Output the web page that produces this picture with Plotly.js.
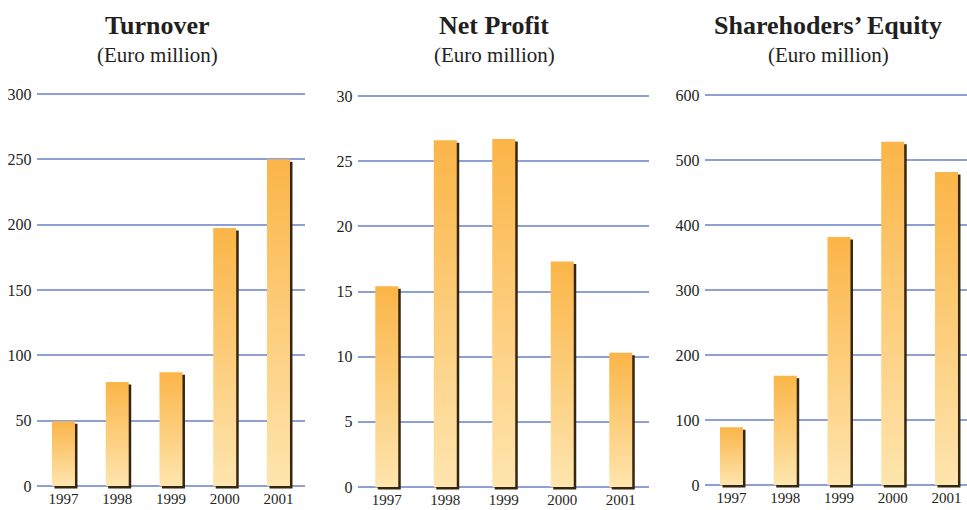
<!DOCTYPE html>
<html>
<head>
<meta charset="UTF-8">
<script src="https://cdn.plot.ly/plotly-3.0.1.min.js"></script>
<style>
  body { margin: 0; padding: 0; background: #fff; }
  #chart { width: 967px; height: 510px; }
</style>
</head>
<body>
<div id="chart"></div>
<script>
// data
const years = ['1997', '1998', '1999', '2000', '2001'];
const turnover = [49.5, 79.5, 87, 197.5, 250];
const netProfit = [15.4, 26.6, 26.7, 17.3, 10.3];
const equity = [89, 168, 381.5, 528, 481.5];

const titles = ['Turnover', 'Net Profit', 'Sharehoders\u2019 Equity'];
const subtitle = '(Euro million)';

const W = 967, H = 510;
const serif = 'Liberation Serif, Times New Roman, serif';

// panel geometry in pixels
const panels = [
  { vals: turnover,  ymax: 300, dtick: 50,  left: 36.6,  step: 53.75, right: 305, top: 94, zero: 486, title: 157 },
  { vals: netProfit, ymax: 30,  dtick: 5,   left: 357.5, step: 58.5,  right: 649, top: 96, zero: 487, title: 494 },
  { vals: equity,    ymax: 600, dtick: 100, left: 704.6, step: 53.75, right: 967, top: 95, zero: 485, title: 828 }
];

const barPx = 23;
const shadowPx = 2.5;

const traces = [];
const layout = {
  width: W, height: H,
  margin: { l: 0, r: 0, t: 0, b: 0 },
  paper_bgcolor: '#fff',
  plot_bgcolor: 'rgba(0,0,0,0)',
  showlegend: false,
  hovermode: false,
  font: { family: serif, color: '#231f20' },
  annotations: []
};

panels.forEach((p, k) => {
  const n = k === 0 ? '' : String(k + 1);
  const xa = 'x' + n, ya = 'y' + n;
  const uy = p.ymax / (p.zero - p.top);        // data units per px (y)
  const ux = 1 / p.step;                        // data units per px (x)
  const xr = [-0.5, -0.5 + (p.right - p.left) / p.step];
  const yr = [-5 * uy, p.ymax + 3 * uy];

  layout['xaxis' + n] = {
    domain: [p.left / W, p.right / W],
    range: xr,
    anchor: ya,
    tickvals: years.map((y, i) => i),
    ticktext: years,
    showgrid: false, zeroline: false, showline: false,
    ticks: '',
    ticklabelstandoff: -3,
    tickfont: { family: serif, size: 15, color: '#231f20' },
    fixedrange: true
  };
  layout['yaxis' + n] = {
    domain: [1 - (p.zero + 5) / H, 1 - (p.top - 3) / H],
    range: yr,
    anchor: xa,
    tickmode: 'linear', tick0: 0, dtick: p.dtick,
    showgrid: true, gridcolor: '#8e9fd5', gridwidth: 2,
    zeroline: false, showline: false,
    ticks: '',
    ticklabelstandoff: 4,
    tickfont: { family: serif, size: 16, color: '#231f20' },
    fixedrange: true
  };

  const hw = barPx / 2 * ux;
  const sx = shadowPx * ux, sy = shadowPx * uy;
  p.vals.forEach((v, i) => {
    // drop shadow
    traces.push({
      type: 'scatter', mode: 'lines', xaxis: xa, yaxis: ya,
      x: [i - hw + sx, i + hw + sx, i + hw + sx, i - hw + sx, i - hw + sx],
      y: [v - sy, v - sy, -sy, -sy, v - sy],
      fill: 'toself', fillcolor: '#35260f',
      line: { width: 0 }, hoverinfo: 'skip'
    });
    // bar with vertical gradient
    traces.push({
      type: 'scatter', mode: 'lines', xaxis: xa, yaxis: ya,
      x: [i - hw, i + hw, i + hw, i - hw, i - hw],
      y: [v, v, 0, 0, v],
      fill: 'toself',
      fillgradient: { type: 'vertical', colorscale: [[0, '#fee5ae'], [1, '#fbb548']] },
      line: { width: 0 }, hoverinfo: 'skip'
    });
  });

  layout.annotations.push({
    text: '<b>' + titles[k] + '</b>', xref: 'paper', yref: 'paper',
    x: p.title / W, y: 1 - 25 / H, xanchor: 'center', yanchor: 'middle',
    showarrow: false, font: { family: serif, size: 26, color: '#231f20' }
  });
  layout.annotations.push({
    text: subtitle, xref: 'paper', yref: 'paper',
    x: p.title / W, y: 1 - 55 / H, xanchor: 'center', yanchor: 'middle',
    showarrow: false, font: { family: serif, size: 21, color: '#231f20' }
  });
});

Plotly.newPlot('chart', traces, layout, { displayModeBar: false, staticPlot: true });
</script>
</body>
</html>
